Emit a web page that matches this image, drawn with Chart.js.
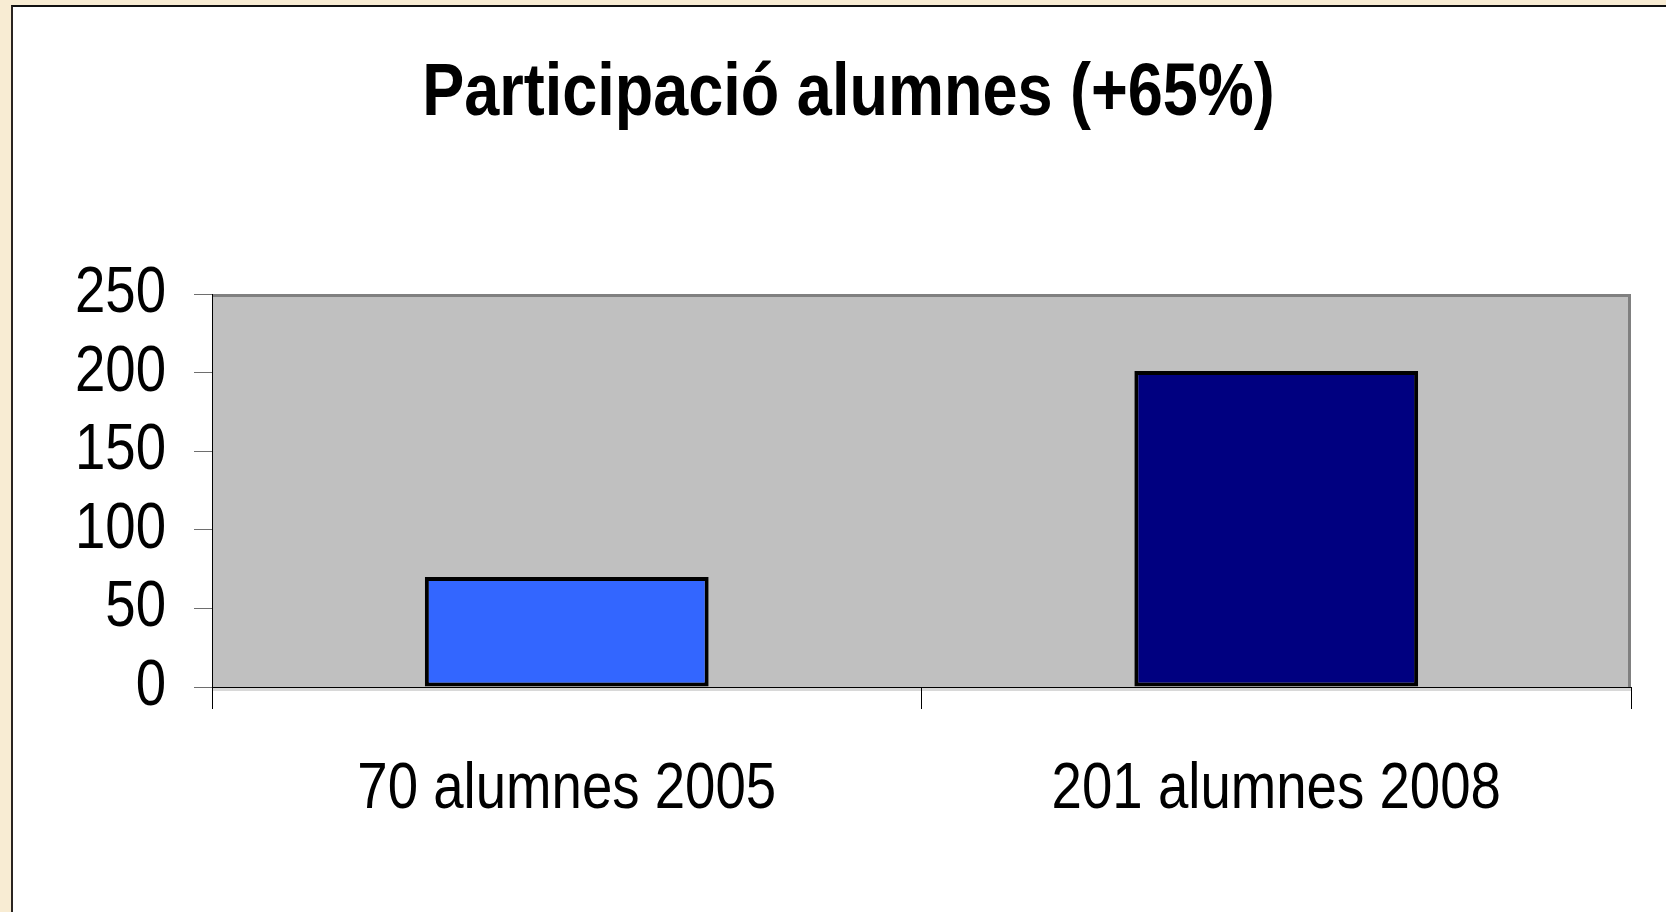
<!DOCTYPE html>
<html>
<head>
<meta charset="utf-8">
<script src="https://cdn.jsdelivr.net/npm/chart.js@4/dist/chart.umd.min.js"></script>
<style>
  html, body { margin: 0; padding: 0; }
  body { width: 1666px; height: 912px; background: #f8ecd3; position: relative; overflow: hidden; }
  #panel { position: absolute; left: 11px; top: 5px; right: 0; bottom: 0; background: #fff;
           border-left: 2px solid #2a2420; border-top: 2px solid #111; }
  #chart { position: absolute; left: 0; top: 0; }
</style>
</head>
<body>
<div id="panel"></div>
<canvas id="chart" width="1666" height="912"></canvas>
<script>
// data
const categories = ['70 alumnes 2005', '201 alumnes 2008'];
const students = [70, 201];
const barColors = ['#3366ff', '#000080'];
const yTicks = [0, 50, 100, 150, 200, 250];

const FONT = "'Liberation Sans', Arial, sans-serif";
const NARROW = 0.84; // no Arial Narrow here, so squeeze the text horizontally

const ctx = document.getElementById('chart').getContext('2d');

// fake a condensed face: scale every text draw / measure on this context
const origFill = ctx.fillText;
const origMeasure = ctx.measureText;
ctx.fillText = function (text, x, y, maxWidth) {
    this.save();
    this.translate(x, y);
    this.scale(NARROW, 1);
    origFill.call(this, text, 0, 0);
    this.restore();
};
ctx.measureText = function (text) {
    const m = origMeasure.call(this, text);
    return {
        width: m.width * NARROW,
        actualBoundingBoxLeft: m.actualBoundingBoxLeft * NARROW,
        actualBoundingBoxRight: m.actualBoundingBoxRight * NARROW,
        actualBoundingBoxAscent: m.actualBoundingBoxAscent,
        actualBoundingBoxDescent: m.actualBoundingBoxDescent
    };
};

// grey plot background with the darker top / right edges
const plotBackground = {
    id: 'plotBackground',
    beforeDraw(chart) {
        const { ctx, chartArea: a } = chart;
        ctx.save();
        ctx.fillStyle = '#c0c0c0';
        ctx.fillRect(a.left, a.top, a.right - a.left, a.bottom - a.top);
        ctx.strokeStyle = '#808080';
        ctx.lineWidth = 3;
        ctx.beginPath();
        ctx.moveTo(a.left, a.top + 1.5);
        ctx.lineTo(a.right - 1.5, a.top + 1.5);
        ctx.lineTo(a.right - 1.5, a.bottom);
        ctx.stroke();
        // light shadow just under the base line
        ctx.fillStyle = '#d8d8d8';
        ctx.fillRect(a.left, a.bottom + 1, a.right - a.left, 3);
        ctx.restore();
    }
};

const chart = new Chart(ctx, {
    type: 'bar',
    data: {
        labels: categories,
        datasets: [{
            label: 'Alumnes',
            data: students,
            backgroundColor: barColors,
            borderColor: '#000',
            borderWidth: 4,
            borderSkipped: false,
            barPercentage: 0.4,
            categoryPercentage: 1.0
        }]
    },
    options: {
        responsive: false,
        animation: false,
        layout: { padding: { left: 66, right: 35, top: 0, bottom: 0 } },
        plugins: {
            legend: { display: false },
            tooltip: { enabled: false },
            title: {
                display: true,
                text: 'Participació alumnes (+65%)',
                color: '#000',
                font: { family: FONT, size: 75, weight: 'bold', lineHeight: 1.2 },
                padding: { top: 49, bottom: 155 }
            }
        },
        scales: {
            y: {
                min: 0,
                max: 250,
                afterBuildTicks(scale) {
                    scale.ticks = yTicks.map(v => ({ value: v }));
                },
                afterFit(scale) { scale.width = 212 - 66; },
                ticks: {
                    autoSkip: false,
                    color: '#000',
                    padding: 28,
                    font: { family: FONT, size: 65 }
                },
                grid: {
                    drawOnChartArea: false,
                    drawTicks: true,
                    tickLength: 18,
                    color: '#6e6e6e'
                },
                border: { display: true, color: '#000', width: 1 }
            },
            x: {
                afterFit(scale) { scale.height = 912 - 687; },
                ticks: {
                    autoSkip: false,
                    maxRotation: 0,
                    color: '#000',
                    padding: 42,
                    font: { family: FONT, size: 65 }
                },
                grid: {
                    offset: true,
                    drawOnChartArea: false,
                    drawTicks: true,
                    tickLength: 22,
                    color: '#000'
                },
                border: { display: true, color: '#000', width: 1 }
            }
        }
    },
    plugins: [plotBackground]
});
</script>
</body>
</html>
